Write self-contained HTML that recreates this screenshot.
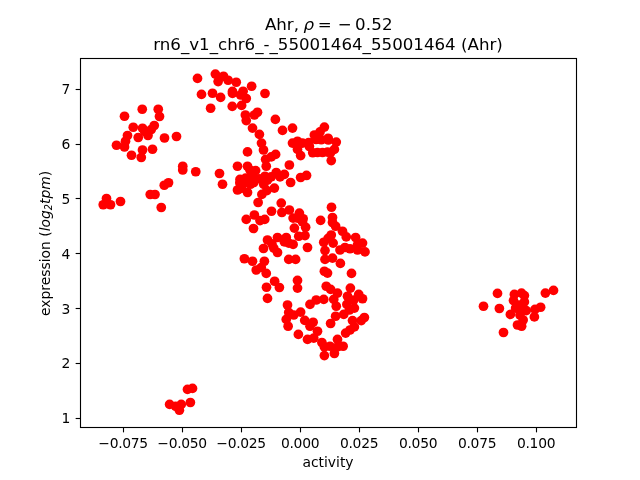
<!DOCTYPE html>
<html lang="en"><head><meta charset="utf-8"><title>Ahr</title>
<style>
html,body{margin:0;padding:0;background:#fff;}
body{width:640px;height:480px;overflow:hidden;}
svg{display:block;}
text{font-family:"DejaVu Sans","Liberation Sans",sans-serif;fill:#000;}
.t{font-size:13.89px;}
.ti{font-size:16.67px;}
.i{font-style:italic;}
</style></head>
<body>
<svg width="640" height="480" viewBox="0 0 640 480">
<rect width="640" height="480" fill="#fff"/>
<g fill="#f00">
<circle cx="124.5" cy="116.25" r="4.87"/><circle cx="142.25" cy="109.25" r="4.87"/><circle cx="158.25" cy="109.25" r="4.87"/><circle cx="159.5" cy="116.5" r="4.87"/>
<circle cx="133.25" cy="127.25" r="4.87"/><circle cx="142.5" cy="128.25" r="4.87"/><circle cx="154.25" cy="125.5" r="4.87"/><circle cx="151.25" cy="129.5" r="4.87"/>
<circle cx="127.5" cy="135.5" r="4.87"/><circle cx="138.25" cy="137.5" r="4.87"/><circle cx="148" cy="135.5" r="4.87"/><circle cx="164.5" cy="138" r="4.87"/>
<circle cx="176.5" cy="136.5" r="4.87"/><circle cx="125.5" cy="141.25" r="4.87"/><circle cx="116.5" cy="145.25" r="4.87"/><circle cx="124.5" cy="147" r="4.87"/>
<circle cx="142.5" cy="150" r="4.87"/><circle cx="152.5" cy="149.25" r="4.87"/><circle cx="131.5" cy="155.25" r="4.87"/><circle cx="141.25" cy="157.5" r="4.87"/>
<circle cx="106.5" cy="198.5" r="4.87"/><circle cx="103.25" cy="204.75" r="4.87"/><circle cx="110.5" cy="204.75" r="4.87"/><circle cx="120.5" cy="201.5" r="4.87"/>
<circle cx="150.25" cy="194.5" r="4.87"/><circle cx="155" cy="194.5" r="4.87"/><circle cx="164.25" cy="185.25" r="4.87"/><circle cx="168.5" cy="182.75" r="4.87"/>
<circle cx="161.25" cy="207.5" r="4.87"/><circle cx="182.75" cy="166.25" r="4.87"/><circle cx="182.75" cy="170" r="4.87"/><circle cx="195.75" cy="171.75" r="4.87"/>
<circle cx="219.5" cy="173.5" r="4.87"/><circle cx="222.5" cy="184.25" r="4.87"/><circle cx="197.5" cy="78.38" r="4.87"/><circle cx="215.38" cy="74.12" r="4.87"/>
<circle cx="218.12" cy="81.62" r="4.87"/><circle cx="223.5" cy="76.25" r="4.87"/><circle cx="228.12" cy="80.25" r="4.87"/><circle cx="236.25" cy="82.25" r="4.87"/>
<circle cx="232.5" cy="91.38" r="4.87"/><circle cx="232.5" cy="93.38" r="4.87"/><circle cx="251.62" cy="86.25" r="4.87"/><circle cx="243.12" cy="91.25" r="4.87"/>
<circle cx="240.62" cy="95" r="4.87"/><circle cx="246.25" cy="98.5" r="4.87"/><circle cx="201.5" cy="94.38" r="4.87"/><circle cx="212.5" cy="93.25" r="4.87"/>
<circle cx="220.62" cy="97.38" r="4.87"/><circle cx="210.62" cy="108.25" r="4.87"/><circle cx="232.25" cy="106.38" r="4.87"/><circle cx="241.62" cy="105.38" r="4.87"/>
<circle cx="265" cy="93.5" r="4.87"/><circle cx="245.38" cy="115" r="4.87"/><circle cx="257.5" cy="112.25" r="4.87"/><circle cx="254.38" cy="115" r="4.87"/>
<circle cx="246.25" cy="120.62" r="4.87"/><circle cx="275.38" cy="119.38" r="4.87"/><circle cx="252.5" cy="128.12" r="4.87"/><circle cx="259.38" cy="134.38" r="4.87"/>
<circle cx="261.5" cy="143.12" r="4.87"/><circle cx="263.5" cy="150" r="4.87"/><circle cx="247.5" cy="151.88" r="4.87"/><circle cx="282.5" cy="130.38" r="4.87"/>
<circle cx="292.5" cy="128.12" r="4.87"/><circle cx="324.38" cy="127.12" r="4.87"/><circle cx="320" cy="131.88" r="4.87"/><circle cx="314.38" cy="135" r="4.87"/>
<circle cx="316" cy="139.5" r="4.87"/><circle cx="321.25" cy="139.75" r="4.87"/><circle cx="328.12" cy="138.25" r="4.87"/><circle cx="328.38" cy="140" r="4.87"/>
<circle cx="336.25" cy="142.12" r="4.87"/><circle cx="334.38" cy="149.38" r="4.87"/><circle cx="331.25" cy="160.62" r="4.87"/><circle cx="292.5" cy="143.12" r="4.87"/>
<circle cx="297.5" cy="141.25" r="4.87"/><circle cx="302.5" cy="143.12" r="4.87"/><circle cx="297.5" cy="149.38" r="4.87"/><circle cx="300.62" cy="155.62" r="4.87"/>
<circle cx="308.75" cy="142.5" r="4.87"/><circle cx="309.38" cy="146.5" r="4.87"/><circle cx="312.75" cy="152.75" r="4.87"/><circle cx="317.5" cy="152.5" r="4.87"/>
<circle cx="322.5" cy="152.5" r="4.87"/><circle cx="327.5" cy="152.12" r="4.87"/><circle cx="330.62" cy="152.5" r="4.87"/><circle cx="289.38" cy="165" r="4.87"/>
<circle cx="275.62" cy="154.38" r="4.87"/><circle cx="271.25" cy="156.88" r="4.87"/><circle cx="265.62" cy="159.38" r="4.87"/><circle cx="266.25" cy="166.25" r="4.87"/>
<circle cx="237.5" cy="166.25" r="4.87"/><circle cx="247.5" cy="166.25" r="4.87"/><circle cx="250" cy="170" r="4.87"/><circle cx="255.62" cy="170.62" r="4.87"/>
<circle cx="276.25" cy="172.5" r="4.87"/><circle cx="284.38" cy="174.38" r="4.87"/><circle cx="280" cy="176.88" r="4.87"/><circle cx="300.62" cy="177.5" r="4.87"/>
<circle cx="290.62" cy="182.5" r="4.87"/><circle cx="240" cy="179.38" r="4.87"/><circle cx="245.62" cy="178.12" r="4.87"/><circle cx="251.88" cy="176.88" r="4.87"/>
<circle cx="253.75" cy="182.5" r="4.87"/><circle cx="265" cy="176.25" r="4.87"/><circle cx="267.5" cy="180" r="4.87"/><circle cx="263.75" cy="184.38" r="4.87"/>
<circle cx="274.38" cy="188.12" r="4.87"/><circle cx="237.5" cy="190" r="4.87"/><circle cx="247.5" cy="192.5" r="4.87"/><circle cx="242.5" cy="185" r="4.87"/>
<circle cx="261.88" cy="194.38" r="4.87"/><circle cx="266.88" cy="190.62" r="4.87"/><circle cx="258.12" cy="202.5" r="4.87"/><circle cx="281.25" cy="203.12" r="4.87"/>
<circle cx="271.5" cy="211.25" r="4.87"/><circle cx="281.88" cy="212.5" r="4.87"/><circle cx="289.38" cy="210" r="4.87"/><circle cx="299.38" cy="213.12" r="4.87"/>
<circle cx="293.12" cy="218.12" r="4.87"/><circle cx="303.12" cy="218.75" r="4.87"/><circle cx="294.38" cy="228.12" r="4.87"/><circle cx="246.25" cy="219.38" r="4.87"/>
<circle cx="254.38" cy="215" r="4.87"/><circle cx="260" cy="220.62" r="4.87"/><circle cx="264.75" cy="219.38" r="4.87"/><circle cx="253.5" cy="228.5" r="4.87"/>
<circle cx="267.5" cy="240" r="4.87"/><circle cx="277.5" cy="237.5" r="4.87"/><circle cx="286.25" cy="237.5" r="4.87"/><circle cx="298.75" cy="236.25" r="4.87"/>
<circle cx="284.38" cy="241.88" r="4.87"/><circle cx="293.12" cy="244.38" r="4.87"/><circle cx="288.75" cy="243.12" r="4.87"/><circle cx="263.5" cy="248.5" r="4.87"/>
<circle cx="273.75" cy="248.12" r="4.87"/><circle cx="277.5" cy="252.5" r="4.87"/><circle cx="271.88" cy="243.75" r="4.87"/><circle cx="244.38" cy="258.75" r="4.87"/>
<circle cx="252.5" cy="261.25" r="4.87"/><circle cx="264.38" cy="261.25" r="4.87"/><circle cx="288.75" cy="259.38" r="4.87"/><circle cx="295.62" cy="259.38" r="4.87"/>
<circle cx="297.5" cy="218.12" r="4.87"/><circle cx="302.5" cy="221.88" r="4.87"/><circle cx="305.62" cy="227.25" r="4.87"/><circle cx="305" cy="235.62" r="4.87"/>
<circle cx="307.5" cy="247.5" r="4.87"/><circle cx="331.5" cy="207.25" r="4.87"/><circle cx="320.62" cy="220.38" r="4.87"/><circle cx="332.5" cy="217.5" r="4.87"/>
<circle cx="332.5" cy="222.5" r="4.87"/><circle cx="335.62" cy="226.25" r="4.87"/><circle cx="342.5" cy="231.25" r="4.87"/><circle cx="346.25" cy="236.88" r="4.87"/>
<circle cx="331.25" cy="235" r="4.87"/><circle cx="323.75" cy="242.25" r="4.87"/><circle cx="333.12" cy="243.12" r="4.87"/><circle cx="328.12" cy="238.38" r="4.87"/>
<circle cx="325" cy="250.62" r="4.87"/><circle cx="355.62" cy="237.5" r="4.87"/><circle cx="362.5" cy="243.12" r="4.87"/><circle cx="357.5" cy="245" r="4.87"/>
<circle cx="345" cy="247.5" r="4.87"/><circle cx="340" cy="250" r="4.87"/><circle cx="350" cy="248.75" r="4.87"/><circle cx="365" cy="251.88" r="4.87"/>
<circle cx="357.5" cy="250" r="4.87"/><circle cx="325" cy="259.38" r="4.87"/><circle cx="332.5" cy="258.12" r="4.87"/><circle cx="340.38" cy="263.38" r="4.87"/>
<circle cx="324.38" cy="271.25" r="4.87"/><circle cx="327.5" cy="273.12" r="4.87"/><circle cx="351.5" cy="273.38" r="4.87"/><circle cx="297.5" cy="280.38" r="4.87"/>
<circle cx="297.5" cy="288.12" r="4.87"/><circle cx="326.25" cy="286.25" r="4.87"/><circle cx="330.62" cy="289.38" r="4.87"/><circle cx="337.5" cy="293.12" r="4.87"/>
<circle cx="350.38" cy="288.12" r="4.87"/><circle cx="347.5" cy="296.25" r="4.87"/><circle cx="358.75" cy="294.38" r="4.87"/><circle cx="362.5" cy="298.75" r="4.87"/>
<circle cx="353.75" cy="300" r="4.87"/><circle cx="333.75" cy="299.38" r="4.87"/><circle cx="323.75" cy="299.38" r="4.87"/><circle cx="316.25" cy="300" r="4.87"/>
<circle cx="310" cy="304.38" r="4.87"/><circle cx="256.25" cy="270" r="4.87"/><circle cx="261.25" cy="267.5" r="4.87"/><circle cx="266.25" cy="273.38" r="4.87"/>
<circle cx="274.62" cy="281.25" r="4.87"/><circle cx="279.38" cy="287.5" r="4.87"/><circle cx="266.5" cy="287.25" r="4.87"/><circle cx="267.5" cy="298.38" r="4.87"/>
<circle cx="287.5" cy="305" r="4.87"/><circle cx="336.25" cy="306.25" r="4.87"/><circle cx="288.75" cy="312.5" r="4.87"/><circle cx="293.75" cy="315" r="4.87"/>
<circle cx="300.62" cy="312.12" r="4.87"/><circle cx="286.25" cy="319.38" r="4.87"/><circle cx="288.12" cy="326.25" r="4.87"/><circle cx="304.75" cy="320.38" r="4.87"/>
<circle cx="313.12" cy="322.25" r="4.87"/><circle cx="310" cy="326.25" r="4.87"/><circle cx="317.5" cy="331.25" r="4.87"/><circle cx="298.38" cy="334.38" r="4.87"/>
<circle cx="307.5" cy="339.38" r="4.87"/><circle cx="313.75" cy="338.12" r="4.87"/><circle cx="321.88" cy="342.5" r="4.87"/><circle cx="330.62" cy="323.5" r="4.87"/>
<circle cx="335.62" cy="316.25" r="4.87"/><circle cx="337.5" cy="339.38" r="4.87"/><circle cx="330" cy="346.25" r="4.87"/><circle cx="346.88" cy="304.38" r="4.87"/>
<circle cx="354.38" cy="308.12" r="4.87"/><circle cx="349.38" cy="310" r="4.87"/><circle cx="343.75" cy="314.38" r="4.87"/><circle cx="364.38" cy="317.5" r="4.87"/>
<circle cx="361.25" cy="320.62" r="4.87"/><circle cx="352.5" cy="320.62" r="4.87"/><circle cx="354.38" cy="326.88" r="4.87"/><circle cx="350" cy="330" r="4.87"/>
<circle cx="345.62" cy="333.12" r="4.87"/><circle cx="324.38" cy="346.88" r="4.87"/><circle cx="343.12" cy="346.25" r="4.87"/><circle cx="337.5" cy="346.88" r="4.87"/>
<circle cx="324.38" cy="355.62" r="4.87"/><circle cx="334.38" cy="353.5" r="4.87"/><circle cx="483.5" cy="306.25" r="4.87"/><circle cx="497.5" cy="293.38" r="4.87"/>
<circle cx="499.38" cy="308.5" r="4.87"/><circle cx="503.5" cy="332.5" r="4.87"/><circle cx="510.38" cy="314.38" r="4.87"/><circle cx="514.38" cy="294.38" r="4.87"/>
<circle cx="521.5" cy="293.12" r="4.87"/><circle cx="524.38" cy="295.62" r="4.87"/><circle cx="513.5" cy="300.62" r="4.87"/><circle cx="524.38" cy="301.88" r="4.87"/>
<circle cx="519" cy="305.12" r="4.87"/><circle cx="515.62" cy="308.12" r="4.87"/><circle cx="521.25" cy="308.75" r="4.87"/><circle cx="526.25" cy="310.62" r="4.87"/>
<circle cx="520" cy="315" r="4.87"/><circle cx="523.12" cy="320" r="4.87"/><circle cx="517.5" cy="325" r="4.87"/><circle cx="521.62" cy="326.25" r="4.87"/>
<circle cx="534.38" cy="316.88" r="4.87"/><circle cx="535" cy="309.38" r="4.87"/><circle cx="540.62" cy="307.25" r="4.87"/><circle cx="545.38" cy="293.12" r="4.87"/>
<circle cx="553.5" cy="290.38" r="4.87"/><circle cx="187.5" cy="389.38" r="4.87"/><circle cx="192.5" cy="388.38" r="4.87"/><circle cx="190.38" cy="402.5" r="4.87"/>
<circle cx="169.62" cy="404.38" r="4.87"/><circle cx="175.62" cy="406.25" r="4.87"/><circle cx="181.25" cy="404.38" r="4.87"/><circle cx="179.38" cy="410.25" r="4.87"/>
<circle cx="259.06" cy="178.75" r="4.87"/><circle cx="271.25" cy="176.87" r="4.87"/><circle cx="239.84" cy="182.97" r="4.87"/><circle cx="241.25" cy="188.41" r="4.87"/>
<circle cx="250.44" cy="184.19" r="4.87"/><circle cx="144.75" cy="131.5" r="4.87"/><circle cx="306.53" cy="175.44" r="4.87"/>
</g>
<rect x="80.5" y="58.5" width="496.0" height="369" fill="none" stroke="#000" stroke-width="1.11"/>
<g stroke="#000" stroke-width="1.11">
<line x1="123.5" y1="427.5" x2="123.5" y2="432.36"/><line x1="182.5" y1="427.5" x2="182.5" y2="432.36"/><line x1="241.5" y1="427.5" x2="241.5" y2="432.36"/><line x1="300.5" y1="427.5" x2="300.5" y2="432.36"/><line x1="359.5" y1="427.5" x2="359.5" y2="432.36"/><line x1="418.5" y1="427.5" x2="418.5" y2="432.36"/><line x1="477.5" y1="427.5" x2="477.5" y2="432.36"/><line x1="536.5" y1="427.5" x2="536.5" y2="432.36"/>
<line x1="75.64" y1="418.5" x2="80.5" y2="418.5"/><line x1="75.64" y1="363.5" x2="80.5" y2="363.5"/><line x1="75.64" y1="308.5" x2="80.5" y2="308.5"/><line x1="75.64" y1="253.5" x2="80.5" y2="253.5"/><line x1="75.64" y1="198.5" x2="80.5" y2="198.5"/><line x1="75.64" y1="144.5" x2="80.5" y2="144.5"/><line x1="75.64" y1="89.5" x2="80.5" y2="89.5"/>
</g>
<g class="t" text-anchor="middle" letter-spacing="-0.3">
<text x="123.1" y="448.4">−0.075</text><text x="182.1" y="448.4">−0.050</text><text x="241.1" y="448.4">−0.025</text><text x="300.1" y="448.4">0.000</text><text x="359.1" y="448.4">0.025</text><text x="418.1" y="448.4">0.050</text><text x="477.1" y="448.4">0.075</text><text x="536.1" y="448.4">0.100</text>
</g>
<g class="t" text-anchor="end">
<text x="70.3" y="423.4">1</text><text x="70.3" y="368.4">2</text><text x="70.3" y="314.4">3</text><text x="70.3" y="259.4">4</text><text x="70.3" y="204.4">5</text><text x="70.3" y="149.4">6</text><text x="70.3" y="94.4">7</text>
</g>
<text class="t" x="328" y="466.6" text-anchor="middle">activity</text>
<text class="t" transform="translate(49.5,243.4) rotate(-90)" text-anchor="middle">expression (<tspan class="i">log</tspan><tspan class="i" font-size="9.7px" dy="2.6">2</tspan><tspan class="i" dy="-2.6">tpm</tspan>)</text>
<text class="ti" y="29.7"><tspan x="264.9">Ahr, </tspan><tspan x="303.5" class="i">ρ </tspan><tspan x="317.8">= </tspan><tspan x="337.8">− </tspan><tspan x="355.1" letter-spacing="0.15">0.52</tspan></text>
<text class="ti" x="328" y="50" text-anchor="middle">rn6_v1_chr6_-_55001464_55001464 (Ahr)</text>
</svg>
</body></html>
